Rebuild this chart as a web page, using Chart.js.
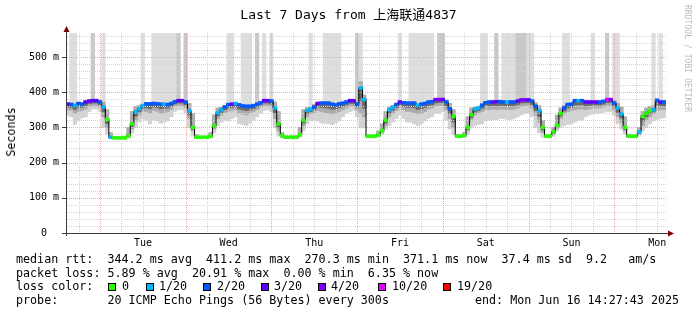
<!DOCTYPE html>
<html>
<head>
<meta charset="utf-8">
<script src="https://cdn.jsdelivr.net/npm/chart.js@4.4.1/dist/chart.umd.min.js"></script>
<style>
  html, body { margin: 0; padding: 0; background: #fff; }
  #wrap { position: relative; width: 697px; height: 315px; overflow: hidden; font-family: "DejaVu Sans Mono", monospace; color: #000; }
  #chart { position: absolute; left: 0; top: 0; }
  .abs { position: absolute; white-space: pre; }
  #title { top: 7px; left: 0; width: 697px; text-align: center; font-size: 13px; line-height: 15px; font-family: "DejaVu Sans Mono", "Noto Sans CJK SC", monospace; }
  #ytitle { font-size: 11.7px; left: 11px; top: 132px; transform: translate(-50%, -50%) rotate(-90deg); }
  #brand { font-size: 8.1px; line-height: 9px; color: #bbb; left: 683px; top: 5px; writing-mode: vertical-rl; }
  .leg { font-size: 11.7px; line-height: 14px; left: 16px; }
  .box { position: absolute; width: 6px; height: 6px; border: 1px solid #000; }
</style>
</head>
<body>
<div id="wrap">
  <canvas id="chart" width="697" height="315"></canvas>
  <div id="title" class="abs">Last 7 Days from 上海联通4837</div>
  <div id="ytitle" class="abs">Seconds</div>
  <div id="brand" class="abs">RRDTOOL / TOBI OETIKER</div>
  <div class="abs leg" style="top:252px">median rtt:  344.2 ms avg  411.2 ms max  270.3 ms min  371.1 ms now  37.4 ms sd  9.2   am/s</div>
  <div class="abs leg" style="top:266px">packet loss: 5.89 % avg  20.91 % max  0.00 % min  6.35 % now</div>
  <div class="abs leg" style="top:279px">loss color:</div>
  <div id="lossLegend"></div>
  <div class="abs leg" style="top:293px">probe:       20 ICMP Echo Pings (56 Bytes) every 300s</div>
  <div class="abs leg" style="top:293px; left:475px">end: Mon Jun 16 14:27:43 2025</div>
</div>
<script>
// one step per hour, first step starts Mon Jun 9 14:27:43
const startHour = 14 + 27 / 60 + 43 / 3600;
const firstMidnight = 24 - startHour;
const dayLabels = ['Tue', 'Wed', 'Thu', 'Fri', 'Sat', 'Sun', 'Mon'];
const yTickValues = [0, 100, 200, 300, 400, 500];
const yMax = 568;
const offScale = 600; // max ping above the top of the graph

const lossColors = ['#26ff00', '#00b8ff', '#0059ff', '#5e00ff', '#7e00ff', '#dd00ff', '#ff0000'];
const lossLabels = ['0', '1/20', '2/20', '3/20', '4/20', '10/20', '19/20'];

// median rtt in ms
const median = [
  366,365,362,368,366,372,375,376,376,372,358,322,272,270,270,270,270,276,310,344,353,362,367,367,
  368,367,366,366,365,368,373,376,376,372,347,300,272,272,272,272,275,305,341,350,358,365,366,368,
  364,361,360,360,362,366,370,376,376,375,355,310,277,272,272,272,272,279,320,348,352,358,368,369,
  369,369,366,364,367,369,372,376,376,366,412,379,275,275,275,279,291,320,350,357,365,372,370,369,
  369,369,363,366,368,372,373,379,379,379,372,353,331,275,275,277,300,336,352,355,363,370,372,372,
  373,373,372,372,372,372,375,378,378,378,375,360,347,300,275,275,287,306,339,355,365,366,376,376,
  376,372,372,372,372,372,374,379,379,369,355,338,300,275,275,275,287,331,340,347,350,377,372,372
];

// loss level, index into lossColors
const loss = [
  3,2,1,2,2,3,3,3,3,2,1,0,1,0,0,0,0,0,0,1,1,1,2,2,
  2,2,2,1,2,2,2,3,3,2,1,0,0,0,0,0,0,0,1,1,2,2,3,1,
  2,2,2,2,2,2,2,3,3,2,1,0,0,0,0,0,0,0,0,1,1,2,3,2,
  2,2,2,2,2,2,2,3,3,2,1,1,0,0,0,0,0,0,1,1,2,3,2,2,
  2,2,1,2,2,2,2,4,4,3,2,2,0,0,0,0,0,0,1,1,2,2,2,3,
  3,2,2,1,2,2,3,4,4,3,2,2,1,0,0,0,0,0,0,2,2,2,2,1,
  2,3,3,3,3,2,2,5,4,2,1,1,0,0,0,0,1,0,0,0,1,2,3,2
];

// smoke: lowest ping, lower edge of the denser part, highest ping (ms)
const smokeLo = [
  335,330,308,320,327,330,345,352,352,345,300,280,268,268,268,268,268,270,285,300,315,325,320,310,
  320,318,312,315,318,330,345,350,350,340,300,275,268,268,268,268,270,285,305,315,320,318,325,330,
  310,308,305,312,320,330,340,348,350,345,300,275,270,269,269,269,269,272,290,310,318,320,318,312,
  312,310,308,312,318,330,340,345,348,330,300,300,270,270,270,272,280,295,305,315,325,335,325,315,
  315,310,305,310,318,325,330,340,340,345,320,295,280,270,270,271,280,300,305,308,310,318,320,322,
  322,325,325,322,322,325,330,335,340,340,330,300,285,272,270,270,275,290,300,305,308,310,315,320,
  322,330,335,338,340,340,342,345,345,335,310,295,280,270,270,270,275,290,300,310,318,322,325,328
];
const smokeMid = [
  350,348,340,345,348,352,360,362,362,358,330,300,270,269,269,269,269,272,295,320,335,345,345,340,
  348,346,340,342,345,350,360,362,362,356,325,290,270,270,270,270,272,295,325,335,342,345,348,350,
  340,338,335,338,345,350,358,362,362,358,325,290,272,270,270,270,270,275,305,330,338,342,348,345,
  342,340,338,340,345,350,355,360,360,350,340,330,272,272,272,275,285,305,330,340,348,355,350,345,
  345,342,338,340,345,352,355,360,362,362,350,325,300,272,272,273,290,320,335,340,345,350,350,352,
  350,352,352,350,350,352,355,360,362,362,355,335,315,285,272,272,280,298,325,338,345,348,350,352,
  352,350,352,355,355,355,358,362,362,350,330,315,290,272,272,272,280,305,320,330,338,348,350,350
];
const smokeHi = [
  370,369,366,371,370,376,378,379,379,376,372,350,285,274,273,273,275,300,345,360,362,366,370,370,
  371,370,369,369,368,371,376,379,379,376,368,340,280,275,275,275,285,335,355,358,362,368,369,371,
  367,364,363,363,365,369,373,379,379,378,372,345,285,275,275,275,276,300,350,356,358,365,371,372,
  372,372,369,367,370,372,375,379,379,372,430,392,280,278,278,290,310,345,358,362,368,375,373,372,
  372,372,366,369,371,375,376,382,382,382,378,368,350,280,278,285,330,355,358,360,366,373,375,375,
  376,376,375,375,375,375,378,381,381,381,379,370,362,320,280,280,300,335,355,362,368,369,379,379,
  379,375,375,375,375,375,377,382,382,376,368,358,330,280,278,280,300,345,355,360,362,380,375,375
];
// hours whose pings ran off the top: 1 = single ping, 2 = several
const spike = [
  0,1,1,0,0,0,0,2,0,0,1,0,0,0,0,0,0,0,0,0,0,1,0,0,
  1,1,1,1,1,1,1,2,0,2,0,0,0,0,0,0,0,0,0,0,0,1,1,0,
  0,1,1,1,0,2,0,1,0,1,0,0,0,0,0,0,0,0,0,0,1,0,0,0,
  1,1,1,1,1,0,0,0,0,2,1,0,0,0,0,0,0,0,0,0,0,1,0,0,
  1,1,1,1,1,1,1,0,2,2,0,0,0,0,0,0,0,0,0,0,1,1,0,0,
  2,0,1,1,1,1,2,2,2,1,1,0,0,0,0,0,0,0,0,1,1,0,0,0,
  0,0,0,1,0,0,0,2,0,1,1,0,0,0,0,0,0,0,0,0,1,0,1,0
];

// legend boxes
const boxX = [108, 146, 203, 261, 318, 378, 443];
const textX = [122, 159, 217, 274, 331, 392, 457];
const legendNode = document.getElementById('lossLegend');
lossLabels.forEach((lbl, i) => {
  const b = document.createElement('div');
  b.className = 'box';
  b.style.left = boxX[i] + 'px';
  b.style.top = '283px';
  b.style.background = lossColors[i];
  legendNode.appendChild(b);
  const t = document.createElement('div');
  t.className = 'abs leg';
  t.style.left = textX[i] + 'px';
  t.style.top = '279px';
  t.textContent = lbl;
  legendNode.appendChild(t);
});

const hours = median.map((_, i) => i + 0.5);
function band(lo, hi) {
  return lo.map((v, i) => ({ x: hours[i], y: [v, hi[i]] }));
}
const spikeIdx = spike.map((s, i) => (s ? i : -1)).filter(i => i >= 0);

// rrdtool style dotted grid, drawn over the smoke but under the median
const rrdGrid = {
  id: 'rrdGrid',
  afterDatasetDraw(chart, args) {
    if (!chart.data.datasets[args.index].gridAfter) return;
    const { ctx, chartArea: a, scales: { x, y } } = chart;
    ctx.save();
    ctx.lineWidth = 1;
    ctx.setLineDash([1, 1]);
    for (let v = 20; v < yMax; v += 20) {
      const py = Math.round(y.getPixelForValue(v)) + 0.5;
      ctx.strokeStyle = v % 100 === 0 ? '#e8aaaa' : '#d6d6d6';
      ctx.beginPath();
      ctx.moveTo(a.left + 1, py);
      ctx.lineTo(a.right, py);
      ctx.stroke();
    }
    for (let h = firstMidnight - 6; h < x.max; h += 6) {
      if (h <= 0) continue;
      const px = Math.round(x.getPixelForValue(h)) + 0.5;
      const major = Math.abs(((h - firstMidnight) % 24 + 24) % 24) < 0.01;
      ctx.strokeStyle = major ? '#e8aaaa' : '#d6d6d6';
      ctx.beginPath();
      ctx.moveTo(px, a.top);
      ctx.lineTo(px, a.bottom);
      ctx.stroke();
    }
    ctx.restore();
  }
};

const rrdAxes = {
  id: 'rrdAxes',
  afterDraw(chart) {
    const { ctx, chartArea: a, scales: { y } } = chart;
    ctx.save();
    ctx.strokeStyle = '#3a3a3a';
    ctx.lineWidth = 1;
    ctx.beginPath();
    ctx.moveTo(a.left + 0.5, a.bottom + 3);
    ctx.lineTo(a.left + 0.5, a.top - 3);
    ctx.moveTo(a.left - 4, a.bottom + 0.5);
    ctx.lineTo(a.right + 2, a.bottom + 0.5);
    yTickValues.forEach(v => {
      const py = Math.round(y.getPixelForValue(v)) + 0.5;
      ctx.moveTo(a.left - 4, py);
      ctx.lineTo(a.left, py);
    });
    ctx.stroke();
    ctx.fillStyle = '#7f0000';
    ctx.beginPath();
    ctx.moveTo(a.left + 0.5, a.top - 7);
    ctx.lineTo(a.left - 2.5, a.top - 1);
    ctx.lineTo(a.left + 3.5, a.top - 1);
    ctx.closePath();
    ctx.fill();
    ctx.beginPath();
    ctx.moveTo(a.right + 8, a.bottom + 0.5);
    ctx.lineTo(a.right + 2, a.bottom - 2.5);
    ctx.lineTo(a.right + 2, a.bottom + 3.5);
    ctx.closePath();
    ctx.fill();
    ctx.restore();
  }
};

const barBase = { type: 'bar', grouped: false, barPercentage: 1, categoryPercentage: 1, borderWidth: 0 };
const monoFont = { family: 'DejaVu Sans Mono', size: 10 };

new Chart(document.getElementById('chart'), {
  type: 'bar',
  data: {
    datasets: [
      { ...barBase, order: 0,
        data: median.map((v, i) => ({ x: hours[i], y: [v - 4, v + 4] })),
        backgroundColor: loss.map(l => lossColors[l]) },
      { type: 'line', order: 1, stepped: 'middle', borderColor: '#000', borderWidth: 1,
        pointRadius: 0, fill: false,
        data: median.map((v, i) => ({ x: hours[i], y: v })) },
      { ...barBase, order: 2, gridAfter: true,
        data: median.map((v, i) => ({ x: hours[i], y: [(smokeMid[i] + v) / 2, Math.min(v + 2, smokeHi[i])] })),
        backgroundColor: '#6a6a6a' },
      { ...barBase, order: 3, data: band(smokeMid, smokeHi), backgroundColor: '#ababab' },
      { ...barBase, order: 4, data: band(smokeLo, smokeHi), backgroundColor: '#d3d3d3' },
      { ...barBase, order: 5,
        data: spikeIdx.map(i => ({ x: hours[i], y: [smokeHi[i], offScale] })),
        backgroundColor: spikeIdx.map(i => (spike[i] === 2 ? '#c8c8c8' : '#dedede')) }
    ]
  },
  options: {
    responsive: false,
    animation: false,
    layout: { padding: { top: 33, right: 31, left: 0, bottom: 0 } },
    plugins: { legend: { display: false }, tooltip: { enabled: false } },
    scales: {
      x: {
        type: 'linear', min: 0, max: 168, offset: false,
        grid: { display: false, drawTicks: false },
        border: { display: false },
        afterFit: s => { s.height = 82; },
        afterBuildTicks: s => { s.ticks = dayLabels.map((d, i) => ({ value: firstMidnight + 12 + 24 * i })); },
        ticks: { autoSkip: false, maxRotation: 0, padding: 4, color: '#000', font: monoFont,
                 callback: (v, i) => dayLabels[i] }
      },
      y: {
        min: 0, max: yMax,
        grid: { display: false, drawTicks: false },
        border: { display: false },
        afterFit: s => { s.width = 66; },
        afterBuildTicks: s => { s.ticks = yTickValues.map(v => ({ value: v })); },
        ticks: { padding: 7, color: '#000', font: monoFont,
                 callback: v => (v === 0 ? '0  ' : v + ' m') }
      }
    }
  },
  plugins: [rrdGrid, rrdAxes]
});
</script>
</body>
</html>
